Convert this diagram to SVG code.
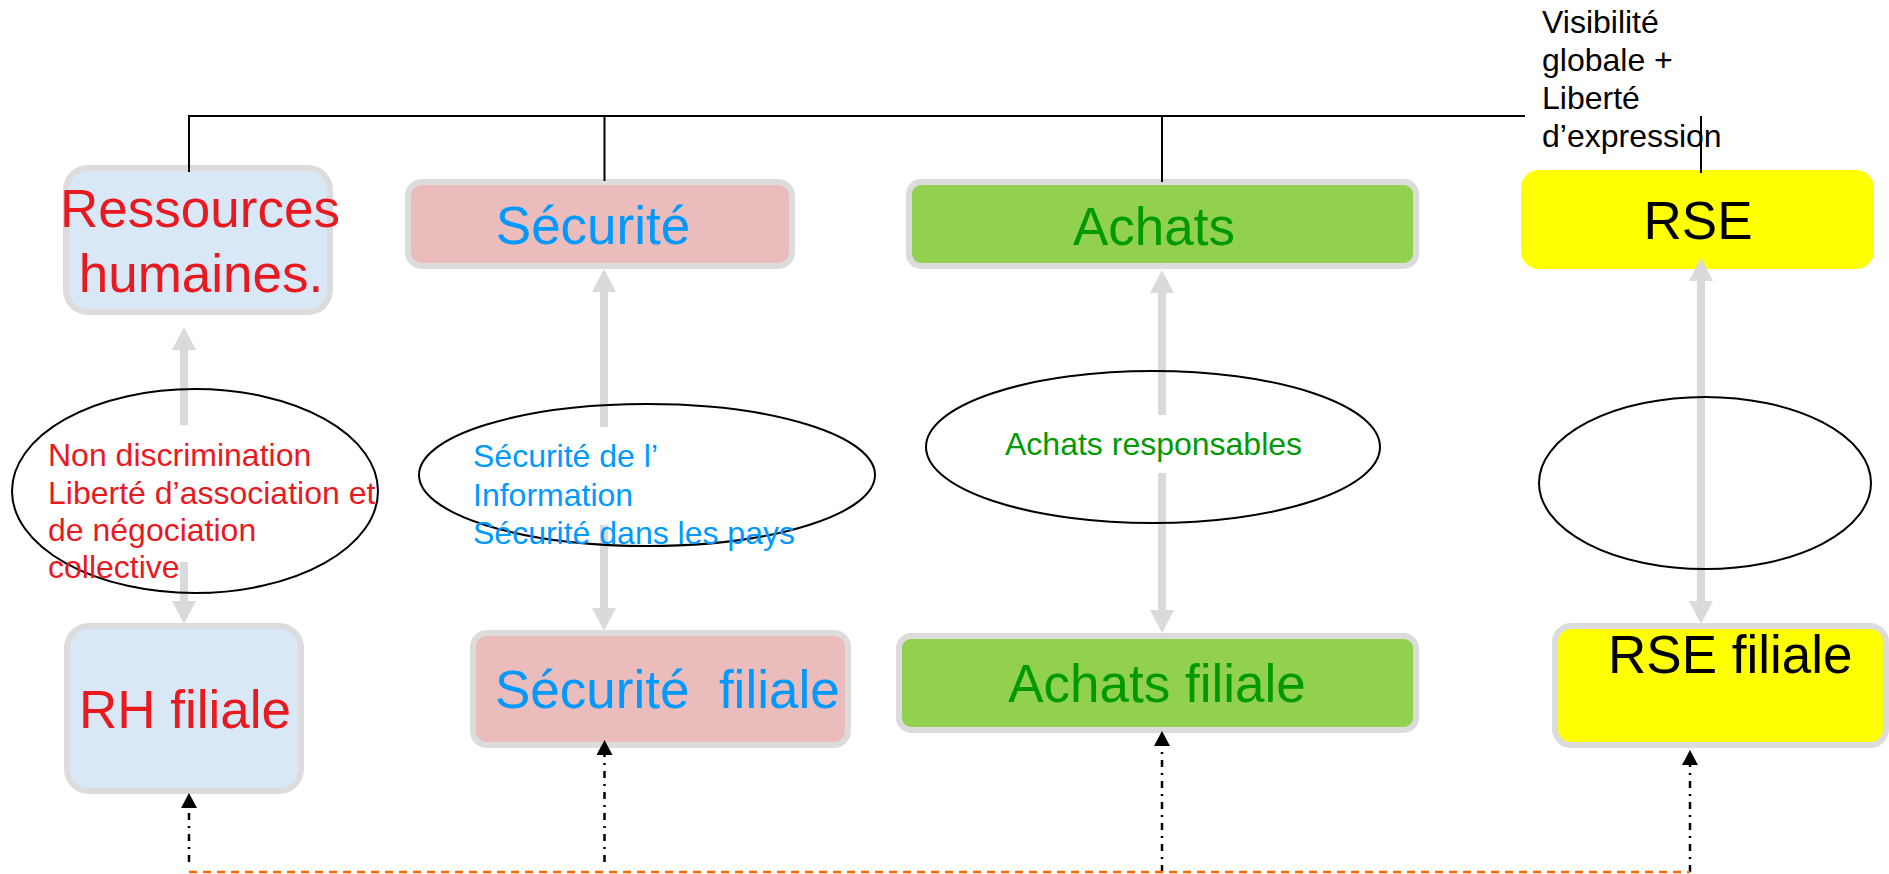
<svg xmlns="http://www.w3.org/2000/svg" width="1889" height="874" viewBox="0 0 1889 874">
<style>
text{font-family:"Liberation Sans",Arial,sans-serif}
.big{font-size:53px}
.small{font-size:32px}
.box{stroke:#dcdcdc;stroke-width:6}
.rh{fill:#d9e8f7}
.sec{fill:#eabcbc}
.ach{fill:#92d050}
.rse{fill:#ffff00}
.red{fill:#e8191f}
.blue{fill:#0099ff}
.green{fill:#009a00}
.black{fill:#000000}
.conn{stroke:#000;stroke-width:2;fill:none}
.gray{stroke:#dadada;stroke-width:8;fill:none}
.dd{stroke:#000;stroke-width:2.5;stroke-dasharray:7 6 2 6;fill:none}
.orange{stroke:#ff6a00;stroke-width:2.5;stroke-dasharray:8 6;fill:none}
.oval{stroke:#000;stroke-width:2;fill:none}
</style>
<defs>
<marker id="gh" markerUnits="userSpaceOnUse" markerWidth="24" markerHeight="24" refX="0" refY="12" orient="auto-start-reverse" viewBox="0 0 24 24">
<path d="M0,0 L23,12 L0,24 z" fill="#dadada"/>
</marker>
<marker id="bh" markerUnits="userSpaceOnUse" markerWidth="16" markerHeight="16" refX="0" refY="8" orient="auto" viewBox="0 0 16 16">
<path d="M0,0 L15,8 L0,16 z" fill="#000"/>
</marker>
</defs>

<g id="rh">
<rect class="box rh" x="66" y="168" width="264" height="144" rx="22"/>
<text class="big red" x="200" y="227" text-anchor="middle">Ressources</text>
<text class="big red" x="201" y="292" text-anchor="middle">humaines.</text>
</g>
<g id="securite">
<rect class="box sec" x="408" y="182" width="384" height="84" rx="14"/>
<text class="big blue" x="593" y="244" text-anchor="middle">Sécurité</text>
</g>
<g id="achats">
<rect class="box ach" x="909" y="182" width="507" height="84" rx="12"/>
<text class="big green" x="1154" y="245" text-anchor="middle">Achats</text>
</g>
<g id="rse">
<rect class="rse" x="1521" y="170" width="353" height="99" rx="18"/>
<text class="big black" x="1698" y="239" text-anchor="middle">RSE</text>
</g>
<g id="rh-filiale">
<rect class="box rh" x="67" y="626" width="234" height="165" rx="22"/>
<text class="big red" x="185" y="728" text-anchor="middle">RH filiale</text>
</g>
<g id="securite-filiale">
<rect class="box sec" x="473" y="633" width="375" height="112" rx="14"/>
<text class="big blue" x="495" y="708" xml:space="preserve">Sécurité  filiale</text>
</g>
<g id="achats-filiale">
<rect class="box ach" x="899" y="636" width="517" height="94" rx="12"/>
<text class="big green" x="1157" y="702" text-anchor="middle">Achats filiale</text>
</g>
<g id="rse-filiale">
<rect class="box rse" x="1555" y="626" width="331" height="119" rx="16"/>
<text class="big black" x="1608" y="673">RSE filiale</text>
</g>
<g id="visibilite">
<text class="small black" x="1542" y="33">Visibilité</text>
<text class="small black" x="1542" y="71">globale +</text>
<text class="small black" x="1542" y="109">Liberté</text>
<text class="small black" x="1542" y="147">d’expression</text>
</g>

<g id="connectors">
<path class="conn" d="M189,116 H1525 M189,115 V172 M604.5,116 V181 M1162,116 V182 M1701,116 V173"/>
<line class="gray" x1="184" y1="350" x2="184" y2="425" marker-start="url(#gh)"/>
<line class="gray" x1="184" y1="562" x2="184" y2="601" marker-end="url(#gh)"/>
<line class="gray" x1="604" y1="292" x2="604" y2="427" marker-start="url(#gh)"/>
<line class="gray" x1="604" y1="525" x2="604" y2="608" marker-end="url(#gh)"/>
<line class="gray" x1="1162" y1="293" x2="1162" y2="415" marker-start="url(#gh)"/>
<line class="gray" x1="1162" y1="473" x2="1162" y2="610" marker-end="url(#gh)"/>
<line class="gray" x1="1701" y1="281" x2="1701" y2="601" marker-start="url(#gh)" marker-end="url(#gh)"/>
<line class="dd" x1="189" y1="862" x2="189" y2="808" marker-end="url(#bh)"/>
<line class="dd" x1="604.5" y1="862" x2="604.5" y2="755" marker-end="url(#bh)"/>
<line class="dd" x1="1162" y1="872" x2="1162" y2="746" marker-end="url(#bh)"/>
<line class="dd" x1="1690" y1="872" x2="1690" y2="765" marker-end="url(#bh)"/>
<line class="orange" x1="189" y1="872" x2="1690" y2="872"/>
</g>

<g id="oval-rh">
<ellipse class="oval" cx="195" cy="491" rx="183" ry="102"/>
<text class="small red" x="48" y="466">Non discrimination</text>
<text class="small red" x="48" y="503.5">Liberté d’association et</text>
<text class="small red" x="48" y="541">de négociation</text>
<text class="small red" x="48" y="578">collective</text>
</g>
<g id="oval-securite">
<ellipse class="oval" cx="647" cy="475" rx="228" ry="71"/>
<text class="small blue" x="473" y="467">Sécurité de l’</text>
<text class="small blue" x="473" y="506">Information</text>
<text class="small blue" x="473" y="544">Sécurité dans les pays</text>
</g>
<g id="oval-achats">
<ellipse class="oval" cx="1153" cy="447" rx="227" ry="76"/>
<text class="small green" x="1005" y="455">Achats responsables</text>
</g>
<g id="oval-rse">
<ellipse class="oval" cx="1705" cy="483" rx="166" ry="86"/>
</g>
</svg>
